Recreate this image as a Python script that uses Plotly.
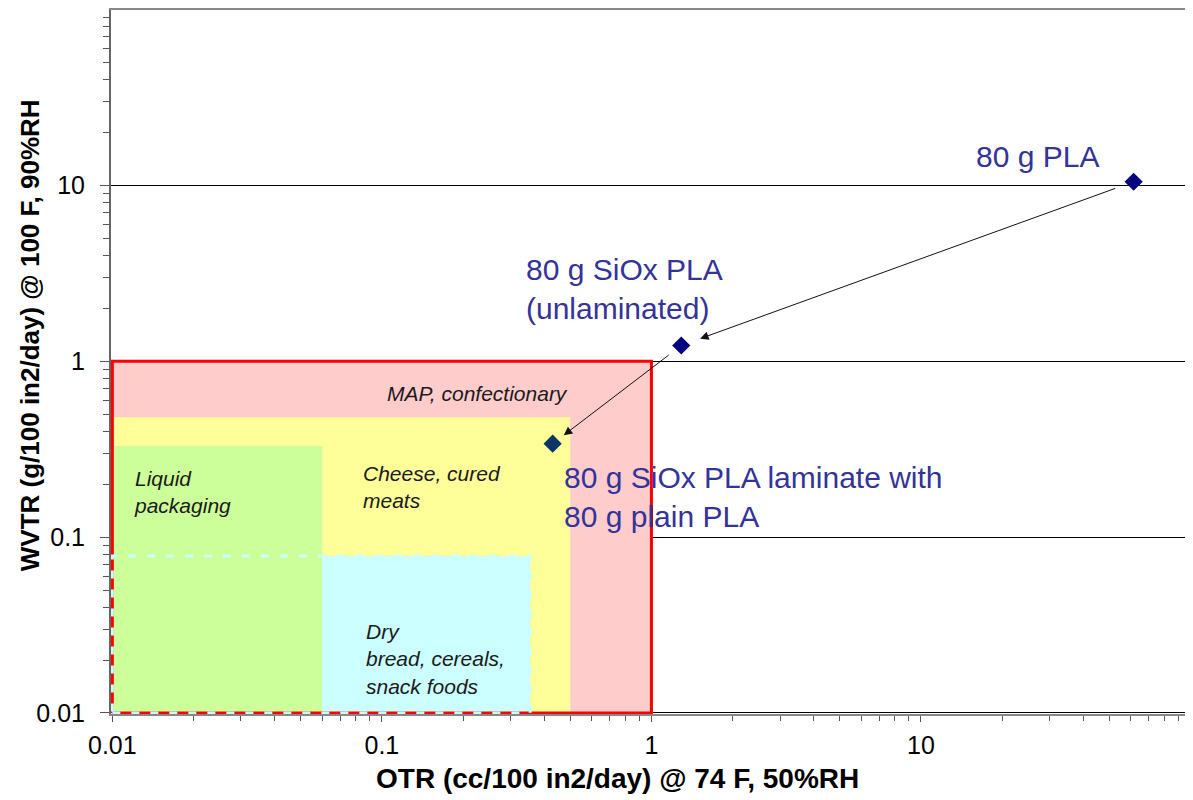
import numpy as np
import plotly.graph_objects as go

# ---- data ----
materials = ["80 g PLA", "80 g SiOx PLA<br>(unlaminated)", "80 g SiOx PLA laminate with<br>80 g plain PLA"]
otr = [61.5, 1.29, 0.43]
wvtr = [10.5, 1.23, 0.34]
marker_colors = ["#000080", "#000080", "#0A3568"]

region_names = ["MAP, confectionary", "Cheese, cured<br>meats", "Dry<br>bread, cereals,<br>snack foods", "Liquid<br>packaging"]
region_otr_min = [0.01, 0.01, 0.01, 0.01]
region_otr_max = [1.0, 0.5, 0.355, 0.06]
region_wvtr_min = [0.01, 0.01, 0.01, 0.01]
region_wvtr_max = [1.0, 0.48, 0.078, 0.33]
region_fill = ["#FFCCCC", "#FFFF99", "#CCFFFF", "#CCFF99"]

major_ticks = [0.01, 0.1, 1, 10]
major_text = ["0.01", "0.1", "1", "10"]

FONT = "Liberation Sans, Arial, sans-serif"

fig = go.Figure()

def rect_xy(i):
    x0, x1 = region_otr_min[i], region_otr_max[i]
    y0, y1 = region_wvtr_min[i], region_wvtr_max[i]
    return [x0, x1, x1, x0, x0], [y0, y0, y1, y1, y0]

# fills
for i in range(len(region_names)):
    xs, ys = rect_xy(i)
    fig.add_trace(go.Scatter(x=xs, y=ys, mode="lines", fill="toself",
                             fillcolor=region_fill[i], line=dict(width=0),
                             hoverinfo="skip", showlegend=False))
# red outline of MAP region
xs, ys = rect_xy(0)
fig.add_trace(go.Scatter(x=xs, y=ys, mode="lines", line=dict(color="#FF0000", width=3),
                         hoverinfo="skip", showlegend=False))
# cyan dashed outline of Dry region
xs, ys = rect_xy(2)
fig.add_trace(go.Scatter(x=xs, y=ys, mode="lines",
                         line=dict(color="#CCFFFF", width=3, dash="8px,11px"),
                         hoverinfo="skip", showlegend=False))

# points
fig.add_trace(go.Scatter(x=otr, y=wvtr, mode="markers",
                         marker=dict(symbol="diamond", size=14, color=marker_colors),
                         cliponaxis=False, showlegend=False))

annotations = []
# arrows between successive materials
arrow_standoff = [(20, 18), (14, 14)]
for k in range(len(otr) - 1):
    annotations.append(dict(
        x=np.log10(otr[k + 1]), y=np.log10(wvtr[k + 1]),
        ax=np.log10(otr[k]), ay=np.log10(wvtr[k]),
        xref="x", yref="y", axref="x", ayref="y",
        showarrow=True, arrowhead=2, arrowsize=1.7, arrowwidth=1,
        arrowcolor="#111111", text="",
        standoff=arrow_standoff[k][0], startstandoff=arrow_standoff[k][1]))

# material labels (offsets relative to the points, in pixels)
label_shift = [(-33, 25, "right"), (-157, 56, "left"), (9, -53, "left")]
for k in range(len(materials)):
    dx, dy, anc = label_shift[k]
    annotations.append(dict(
        x=np.log10(otr[k]), y=np.log10(wvtr[k]), xref="x", yref="y",
        text=materials[k], showarrow=False, xanchor=anc, yanchor="middle",
        align="left", xshift=dx, yshift=dy,
        font=dict(family=FONT, size=30, color="#333399")))

# region labels
region_label_pos = [  # (anchor x value, anchor y value, xshift, xanchor)
    (0.5, 0.66, 0, "right"),
    (0.06, 0.194, 39, "left"),
    (0.06, 0.0203, 42, "left"),
    (0.01, 0.18, 20, "left"),
]
for i in range(len(region_names)):
    xv, yv, dx, anc = region_label_pos[i]
    annotations.append(dict(
        x=np.log10(xv), y=np.log10(yv), xref="x", yref="y",
        text="<i>" + region_names[i] + "</i>", showarrow=False,
        xanchor=anc, yanchor="middle", align="left", xshift=dx,
        font=dict(family=FONT, size=21, color="#1a1a1a")))

# axis titles
annotations.append(dict(
    x=0.469, y=0, xref="paper", yref="paper", yanchor="middle", xanchor="center",
    yshift=-64, showarrow=False,
    text="<b>OTR (cc/100 in2/day) @ 74 F, 50%RH</b>",
    font=dict(family=FONT, size=28, color="#000")))
annotations.append(dict(
    x=0, y=0.538, xref="paper", yref="paper", xanchor="center", yanchor="middle",
    xshift=-81, textangle=-90, showarrow=False,
    text="<b>WVTR (g/100 in2/day) @ 100 F, 90%RH</b>",
    font=dict(family=FONT, size=26, color="#000")))

minor_vals = [m * 10.0 ** e for e in range(-2, 2) for m in range(2, 10)]

# the page body adds an 8px margin, so the figure is 8px smaller and shifted
fig.update_layout(
    width=1185, height=792,
    margin=dict(l=103, r=3, t=2, b=86),
    paper_bgcolor="white", plot_bgcolor="white",
    annotations=annotations,
    font=dict(family=FONT, size=25, color="#000"),
    xaxis=dict(type="log", range=[-2.005, 1.998], automargin=False,
               tickmode="array", tickvals=major_ticks, ticktext=major_text,
               ticks="outside", ticklen=6, tickcolor="#555",
               showgrid=False, zeroline=False,
               showline=True, linecolor="#888", linewidth=2, mirror=True,
               layer="below traces", ticklabelstandoff=2,
               tickfont=dict(family=FONT, size=25, color="#000"),
               minor=dict(tickvals=minor_vals, ticks="outside", ticklen=5,
                          tickcolor="#555", showgrid=False)),
    yaxis=dict(type="log", range=[-2.006, 1.998], automargin=False,
               tickmode="array", tickvals=major_ticks, ticktext=major_text,
               ticks="outside", ticklen=9, tickcolor="#555",
               showgrid=True, gridcolor="#000", gridwidth=1, zeroline=False,
               showline=True, linecolor="#666", linewidth=2, mirror=True,
               layer="below traces", ticklabelstandoff=10,
               tickfont=dict(family=FONT, size=25, color="#000"),
               minor=dict(tickvals=minor_vals, ticks="outside", ticklen=6,
                          tickcolor="#555", showgrid=False)),
)

fig.write_html("out.html")
